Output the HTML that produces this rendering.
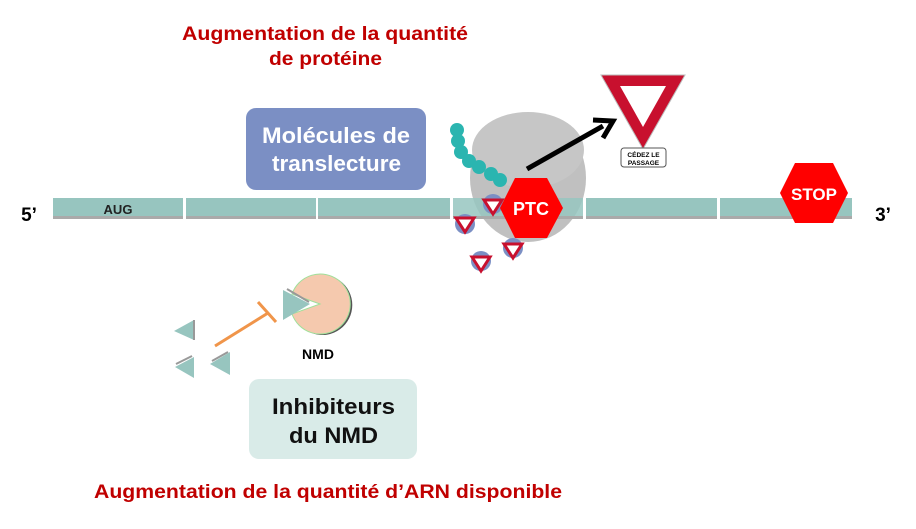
<!DOCTYPE html>
<html><head><meta charset="utf-8"><style>
body{margin:0;background:#fff;}
svg{display:block;font-family:"Liberation Sans",Arial,sans-serif;}
</style></head><body>
<svg width="916" height="529" viewBox="0 0 916 529" xmlns="http://www.w3.org/2000/svg">
<text x="182" y="40" textLength="286" lengthAdjust="spacingAndGlyphs" font-size="19" font-weight="bold" fill="#c00000">Augmentation de la quantité</text>
<text x="269" y="65" textLength="113" lengthAdjust="spacingAndGlyphs" font-size="19" font-weight="bold" fill="#c00000">de protéine</text>
<text x="94" y="498" textLength="468" lengthAdjust="spacingAndGlyphs" font-size="19" font-weight="bold" fill="#c00000">Augmentation de la quantité d’ARN disponible</text>

<!-- ribosome -->
<ellipse cx="528" cy="178" rx="58" ry="64" fill="#c0c0c0"/>
<ellipse cx="528" cy="150" rx="56" ry="38" fill="#c6c6c6"/>

<!-- mRNA -->
<g fill="#97c5bf">
<rect x="53" y="198" width="130" height="18"/>
<rect x="186" y="198" width="130" height="18"/>
<rect x="318" y="198" width="132" height="18"/>
<rect x="453" y="198" width="130" height="18" opacity="0.85"/>
<rect x="586" y="198" width="131" height="18"/>
<rect x="720" y="198" width="132" height="18"/>
</g>
<g fill="#aaaaaa">
<rect x="53" y="216" width="130" height="3"/>
<rect x="186" y="216" width="130" height="3"/>
<rect x="318" y="216" width="132" height="3"/>
<rect x="453" y="216" width="130" height="3"/>
<rect x="586" y="216" width="131" height="3"/>
<rect x="720" y="216" width="132" height="3"/>
</g>
<text x="118" y="214" text-anchor="middle" font-size="13" font-weight="bold" fill="#222">AUG</text>
<text x="29" y="221" text-anchor="middle" font-size="19" font-weight="bold">5’</text>
<text x="883" y="221" text-anchor="middle" font-size="19" font-weight="bold">3’</text>

<!-- beads -->
<g fill="#2bb5b0">
<circle cx="457" cy="130" r="7"/><circle cx="458" cy="141" r="7"/><circle cx="461" cy="152" r="7"/>
<circle cx="469" cy="161" r="7"/><circle cx="479" cy="167" r="7"/><circle cx="491" cy="174" r="7"/><circle cx="500" cy="180" r="7"/>
</g>

<!-- arrow -->
<line x1="527" y1="169" x2="603" y2="126" stroke="#000" stroke-width="5"/>
<polyline points="593,120 613,121 603,138" fill="none" stroke="#000" stroke-width="5"/>

<!-- yield sign -->
<polygon points="601,75 685,75 643,149" fill="#c8102e" stroke="#bbb" stroke-width="1"/>
<polygon points="620,86 666,86 643,127" fill="#fff"/>
<rect x="621" y="148" width="45" height="19" rx="3" fill="#fff" stroke="#555" stroke-width="1"/>
<text x="643.5" y="157" text-anchor="middle" font-size="6.5" font-weight="bold">CÉDEZ LE</text>
<text x="643.5" y="165" text-anchor="middle" font-size="6.5" font-weight="bold">PASSAGE</text>

<!-- small yield circles -->
<g>
<circle cx="493" cy="204" r="10" fill="#7b8fc4"/><polygon points="484,200 502,200 493,214" fill="#fff" stroke="#c8102e" stroke-width="3"/>
<circle cx="465" cy="224" r="10" fill="#7b8fc4"/><polygon points="456,218 474,218 465,232" fill="#fff" stroke="#c8102e" stroke-width="3"/>
<circle cx="513" cy="248" r="10" fill="#7b8fc4"/><polygon points="504,244 522,244 513,258" fill="#fff" stroke="#c8102e" stroke-width="3"/>
<circle cx="481" cy="261" r="10" fill="#7b8fc4"/><polygon points="472,257 490,257 481,271" fill="#fff" stroke="#c8102e" stroke-width="3"/>
</g>

<!-- PTC -->
<polygon points="500,208 515,178 547,178 563,208 547,238 515,238" fill="#ff0000"/>
<text x="531" y="215" text-anchor="middle" font-size="18" font-weight="bold" fill="#fff">PTC</text>

<!-- STOP -->
<polygon points="780,193 795,163 833,163 848,193 833,223 795,223" fill="#ff0000"/>
<text x="814" y="200" text-anchor="middle" font-size="17" font-weight="bold" fill="#fff">STOP</text>

<!-- boxes -->
<rect x="246" y="108" width="180" height="82" rx="10" fill="#7b8fc4"/>
<text x="262" y="143" textLength="148" lengthAdjust="spacingAndGlyphs" font-size="22" font-weight="bold" fill="#fff">Molécules de</text>
<text x="272" y="171" textLength="129" lengthAdjust="spacingAndGlyphs" font-size="22" font-weight="bold" fill="#fff">translecture</text>
<rect x="249" y="379" width="168" height="80" rx="10" fill="#d9ebe8"/>
<text x="272" y="414" textLength="123" lengthAdjust="spacingAndGlyphs" font-size="22" font-weight="bold" fill="#111">Inhibiteurs</text>
<text x="289" y="443" textLength="89" lengthAdjust="spacingAndGlyphs" font-size="22" font-weight="bold" fill="#111">du NMD</text>

<!-- NMD pacman -->
<path d="M320,304 L292,294 A30,30 0 1,1 292,314 Z" fill="#555" transform="translate(2,1)"/>
<path d="M320,304 L292,294 A30,30 0 1,1 292,314 Z" fill="#f5c9ae" stroke="#9fe09a" stroke-width="1"/>
<polygon points="283,290 283,320 310,304" fill="#97c5bf"/>
<line x1="287" y1="289" x2="309" y2="302" stroke="#999" stroke-width="2"/>
<text x="318" y="359" text-anchor="middle" font-size="14" font-weight="bold">NMD</text>
<line x1="215" y1="346" x2="268" y2="313" stroke="#f0954a" stroke-width="3"/>
<line x1="258" y1="302" x2="276" y2="322" stroke="#f0954a" stroke-width="3"/>
<polygon points="174,331 194,320 194,340" fill="#97c5bf"/>
<line x1="194" y1="320" x2="194" y2="340" stroke="#999" stroke-width="2"/>
<polygon points="175,367 194,357 194,378" fill="#97c5bf"/>
<line x1="176" y1="364" x2="192" y2="356" stroke="#999" stroke-width="2"/>
<polygon points="210,364 230,352 230,375" fill="#97c5bf"/>
<line x1="212" y1="361" x2="228" y2="352" stroke="#999" stroke-width="2"/>
</svg>
</body></html>
